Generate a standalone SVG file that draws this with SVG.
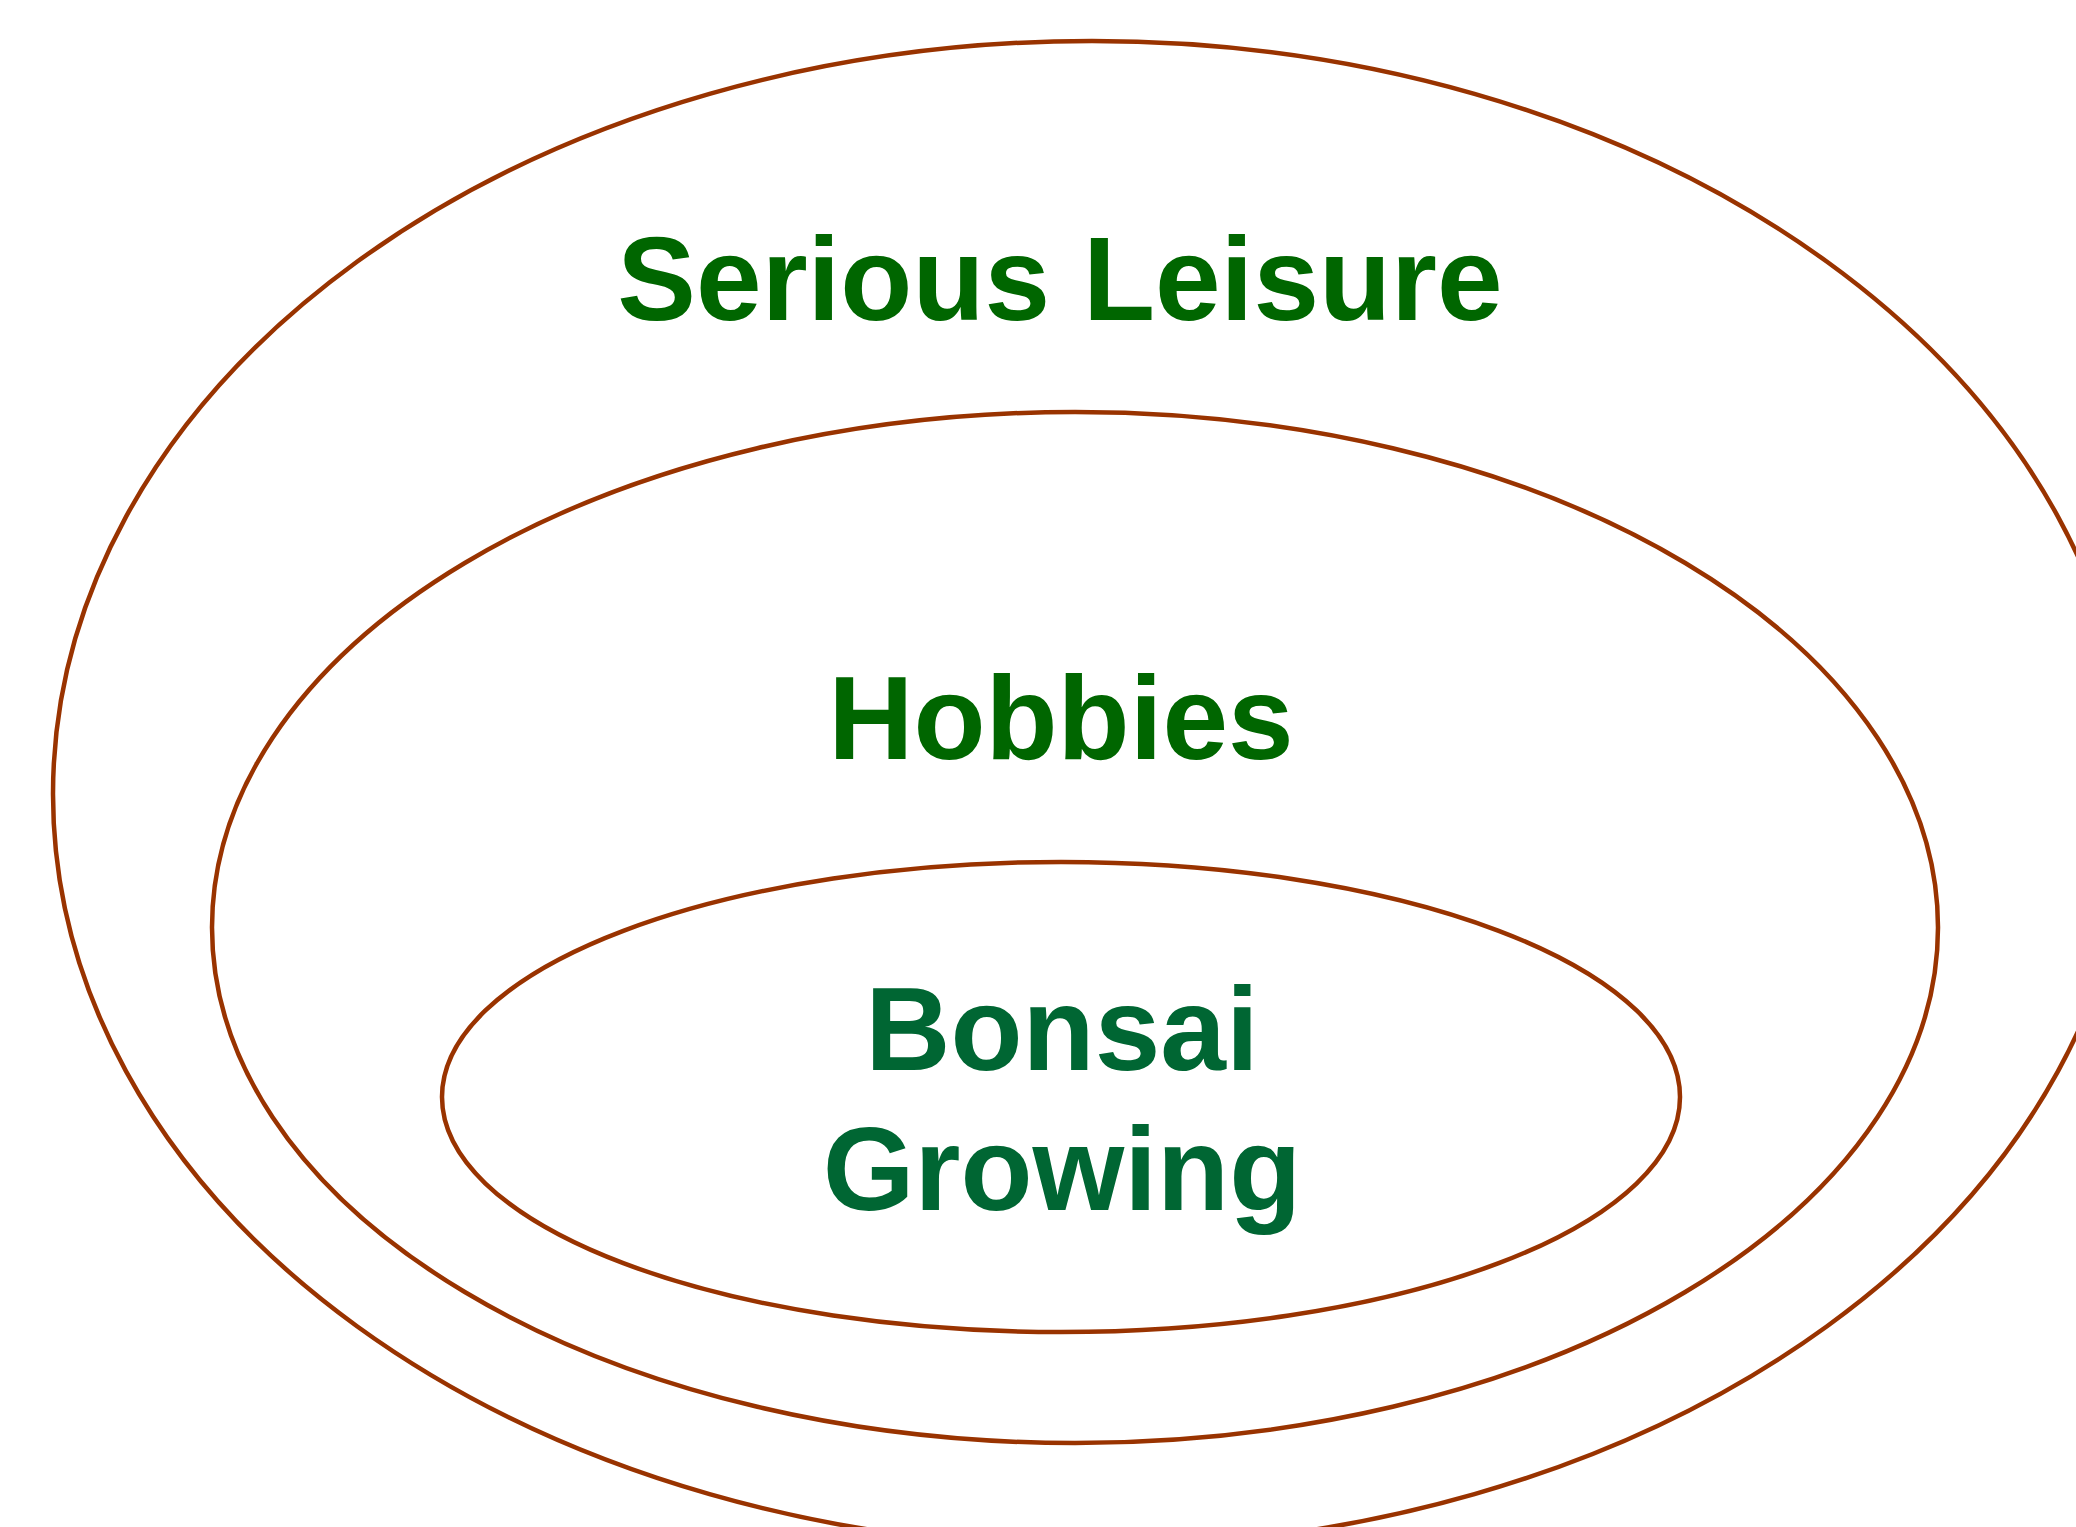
<svg xmlns="http://www.w3.org/2000/svg" width="2076" height="1527" viewBox="0 0 2076 1527">
<style>
.ring{fill:none;stroke:#993300;stroke-width:4.5}
.lbl{font-family:"Liberation Sans",Arial,sans-serif;font-weight:bold;font-size:118px;text-anchor:middle}
</style>
<rect width="2076" height="1527" fill="#ffffff"/>
<g id="serious-leisure">
<ellipse class="ring" cx="1092" cy="794" rx="1039" ry="753"/>
<text class="lbl" x="1060" y="320" fill="#006600">Serious Leisure</text>
</g>
<g id="hobbies">
<ellipse class="ring" cx="1075" cy="927.5" rx="863" ry="515.5"/>
<text class="lbl" x="1061" y="759" fill="#006600">Hobbies</text>
</g>
<g id="bonsai-growing">
<ellipse class="ring" cx="1061" cy="1097" rx="619" ry="235"/>
<text class="lbl" x="1062" y="1070" fill="#006633">Bonsai</text>
<text class="lbl" x="1062" y="1210" fill="#006633">Growing</text>
</g>
<g id="connectors"></g>
</svg>
